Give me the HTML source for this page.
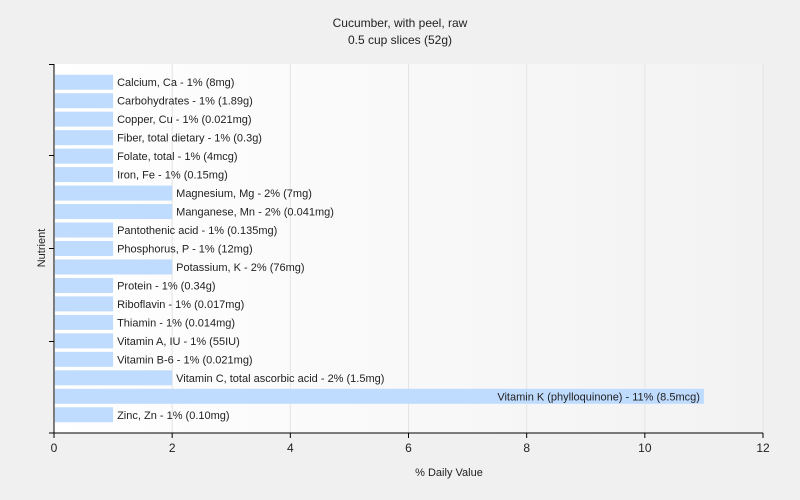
<!DOCTYPE html>
<html><head><meta charset="utf-8"><style>
html,body{margin:0;padding:0;width:800px;height:500px;overflow:hidden;background:#f0f0f0;font-family:"Liberation Sans",sans-serif;}
svg{display:block;}
svg text{font-family:"Liberation Sans",sans-serif;fill:#222;}
</style></head><body>
<svg width="800" height="500">
<defs><linearGradient id="bg" x1="0" x2="1" y1="0" y2="0"><stop offset="0" stop-color="#ffffff"/><stop offset="1" stop-color="#f2f2f2"/></linearGradient></defs>
<rect width="800" height="500" fill="#f0f0f0"/>
<text x="400" y="27" text-anchor="middle" font-size="12">Cucumber, with peel, raw</text>
<text x="400" y="44" text-anchor="middle" font-size="12">0.5 cup slices (52g)</text>
<rect x="54" y="64" width="709" height="369" fill="url(#bg)"/>
<g id="grid"></g><g id="bars"></g><g id="axes"></g>
<text x="449" y="476" text-anchor="middle" font-size="11">% Daily Value</text>
<text x="0" y="0" transform="translate(45,248) rotate(-90)" text-anchor="middle" font-size="11">Nutrient</text>
</svg>
<script>
const categories=["Calcium, Ca","Carbohydrates","Copper, Cu","Fiber, total dietary","Folate, total","Iron, Fe","Magnesium, Mg","Manganese, Mn","Pantothenic acid","Phosphorus, P","Potassium, K","Protein","Riboflavin","Thiamin","Vitamin A, IU","Vitamin B-6","Vitamin C, total ascorbic acid","Vitamin K (phylloquinone)","Zinc, Zn"];
const values=[1,1,1,1,1,1,2,2,1,1,2,1,1,1,1,1,2,11,1];
const amounts=["8mg","1.89g","0.021mg","0.3g","4mcg","0.15mg","7mg","0.041mg","0.135mg","12mg","76mg","0.34g","0.017mg","0.014mg","55IU","0.021mg","1.5mg","8.5mcg","0.10mg"];
const xTicks=[0,2,4,6,8,10,12];
const NS="http://www.w3.org/2000/svg";
const x0=54,x1=763,y0=64,y1=433;
const xs=v=>x0+(x1-x0)*v/12;
const step=(y1-y0-18)/categories.length;
const yc=i=>y0+9+step*(i+0.5);
function mk(t,a,p){const e=document.createElementNS(NS,t);for(const k in a)e.setAttribute(k,a[k]);document.getElementById(p).appendChild(e);return e;}
xTicks.forEach(t=>{
 if(t>0){const g=mk('line',{x1:xs(t),x2:xs(t),y1:y0,y2:y1,stroke:'#e4e4e4'},'grid');
 
 }
 const tk=mk('line',{x1:xs(t),x2:xs(t),y1:y1,y2:y1+5,stroke:'#000'},'axes');
 
 
 const tl=mk('text',{x:xs(t),y:y1+19,'text-anchor':'middle','font-size':12},'axes');
 tl.textContent=t;
 
 
});
categories.forEach((c,i)=>{
 const w=xs(values[i])-x0, c0=yc(i);
 const r=mk('rect',{x:x0+1,y:c0-7.5,width:w-1,height:15,fill:'#bfdbfe'},'bars');
 
 
 const lbl=c+' - '+values[i]+'% ('+amounts[i]+')';
 const inside=values[i]>6;
 const t=mk('text',{x:inside?xs(values[i])-4:xs(values[i])+4,y:c0+4,'font-size':11,'text-anchor':inside?'end':'start'},'bars');
 t.textContent=lbl;
 
 
});
const ax=mk('line',{x1:x0,x2:x0,y1:y0,y2:y1,stroke:'#000'},'axes');


const bx=mk('line',{x1:x0-5,x2:x1,y1:y1,y2:y1,stroke:'#000'},'axes');


[64,155,248,341].forEach(y=>{
 const l=mk('line',{x1:x0-5,x2:x0,y1:y+0.5,y2:y+0.5,stroke:'#000'},'axes');
 
 
});
</script>
</body></html>
